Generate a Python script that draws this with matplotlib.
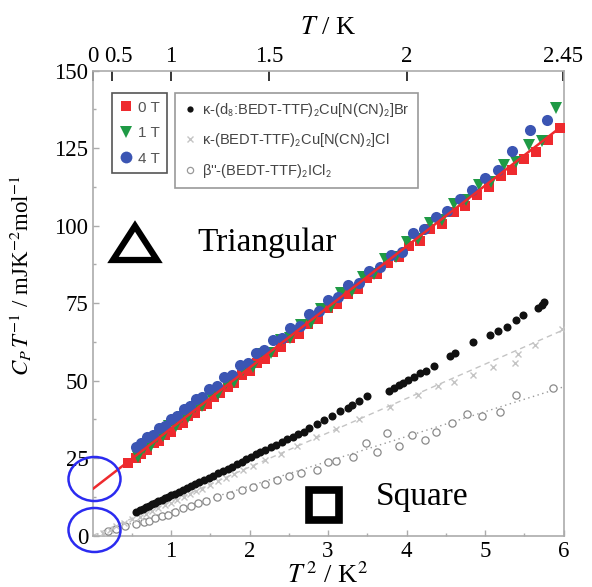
import numpy as np
import matplotlib
matplotlib.use('Agg')
import matplotlib.pyplot as plt
from matplotlib.lines import Line2D
from matplotlib.patches import Ellipse, Polygon, Rectangle
from matplotlib.ticker import NullLocator
from matplotlib.transforms import ScaledTranslation

plt.rcParams['font.family'] = ['Liberation Serif', 'DejaVu Serif']
plt.rcParams['mathtext.fontset'] = 'stix'

# ---------------- data ----------------
# triangular lattice sample, 0 T / 1 T / 4 T  (x = T^2 [K^2], y = C_p/T [mJ K^-2 mol^-1])
x0T = [0.45, 0.55, 0.62, 0.70, 0.78, 0.85, 0.92, 1.00, 1.08, 1.15, 1.22, 1.30, 1.38, 1.46,
       1.55, 1.63, 1.72, 1.80, 1.90, 2.00, 2.10, 2.20, 2.30, 2.40, 2.52, 2.63, 2.75, 2.87,
       3.00, 3.12, 3.25, 3.38, 3.50, 3.63, 3.76, 3.90, 4.03, 4.17, 4.30, 4.45, 4.60, 4.75,
       4.90, 5.05, 5.20, 5.35, 5.50, 5.65, 5.80, 5.95]
y0T = [23.5, 25.0, 26.5, 27.8, 29.9, 30.6, 32.4, 33.6, 35.8, 36.4, 38.6, 39.5, 41.8, 42.6,
       44.9, 46.0, 48.1, 49.2, 51.9, 53.1, 55.8, 57.0, 59.4, 60.8, 63.9, 65.2, 68.4, 69.9,
       73.3, 74.6, 78.1, 79.7, 83.2, 84.5, 88.0, 89.8, 93.4, 95.1, 98.9, 100.6, 104.5, 106.3,
       109.8, 112.4, 115.9, 118.1, 121.6, 123.7, 127.6, 131.4]

x1T = [0.58, 0.66, 0.74, 0.82, 0.90, 0.98, 1.06, 1.14, 1.22, 1.30, 1.40, 1.50, 1.60, 1.70,
       1.80, 1.92, 2.04, 2.16, 2.28, 2.40, 2.52, 2.65, 2.78, 2.91, 3.04, 3.17, 3.30, 3.44,
       3.58, 3.72, 3.86, 4.00, 4.15, 4.30, 4.45, 4.60, 4.76, 4.92, 5.08, 5.24, 5.40, 5.56,
       5.72, 5.91]
y1T = [25.5, 28.4, 28.9, 31.8, 32.1, 35.3, 35.4, 38.3, 38.2, 41.6, 41.9, 45.3, 45.8, 49.4,
       49.7, 53.5, 54.3, 58.5, 59.0, 63.1, 63.8, 67.9, 68.7, 73.0, 73.9, 78.3, 79.0, 83.4,
       84.4, 89.3, 89.9, 94.8, 95.6, 100.8, 101.9, 106.9, 108.3, 113.2, 114.2, 119.5, 120.6, 125.9,
       127.2, 137.9]

x4T = [0.55, 0.62, 0.70, 0.77, 0.85, 0.92, 1.00, 1.08, 1.16, 1.24, 1.32, 1.40, 1.49, 1.58,
       1.68, 1.78, 1.88, 1.98, 2.08, 2.19, 2.30, 2.41, 2.52, 2.64, 2.76, 2.88, 3.00, 3.13,
       3.26, 3.39, 3.52, 3.66, 3.80, 3.94, 4.08, 4.22, 4.37, 4.52, 4.68, 4.84, 5.00, 5.16,
       5.34, 5.57, 5.79]
y4T = [28.5, 29.8, 31.7, 32.6, 34.8, 35.5, 37.8, 38.6, 41.0, 41.7, 44.1, 44.6, 47.4, 48.2,
       51.3, 52.0, 55.2, 55.8, 58.9, 59.9, 63.0, 63.7, 67.1, 67.8, 71.5, 72.4, 76.0, 76.9,
       80.8, 81.5, 85.4, 86.6, 90.6, 91.6, 97.5, 99.0, 102.9, 104.9, 108.6, 111.5, 115.4, 118.0,
       124.0, 130.9, 134.0]

fit_x = [0.0, 6.0]
fit_y = [15.0, 132.5]

# kappa-(d8:BEDT-TTF)2Cu[N(CN)2]Br
xBr = [0.56, 0.60, 0.64, 0.68, 0.72, 0.76, 0.80, 0.84, 0.88, 0.92, 0.96, 1.00, 1.05, 1.10,
       1.15, 1.20, 1.25, 1.30, 1.36, 1.42, 1.48, 1.54, 1.60, 1.66, 1.72, 1.78, 1.84, 1.90,
       1.96, 2.02, 2.08, 2.14, 2.20, 2.27, 2.34, 2.41, 2.48, 2.55, 2.62, 2.69, 2.76, 2.86,
       2.95, 3.05, 3.15, 3.25, 3.30, 3.40, 3.50, 3.78, 3.84, 3.90, 3.96, 4.02, 4.10, 4.17,
       4.25, 4.35, 4.55, 4.62, 4.85, 5.06, 5.17, 5.28, 5.40, 5.49, 5.68, 5.72, 5.75]
yBr = [7.7, 8.3, 8.6, 9.4, 9.6, 10.3, 10.6, 11.2, 11.5, 12.2, 12.5, 13.1, 13.6, 14.2,
       14.7, 15.4, 15.9, 16.6, 17.2, 17.9, 18.6, 19.3, 20.1, 20.8, 21.6, 22.3, 23.0, 23.9,
       24.6, 25.5, 26.2, 27.0, 27.7, 28.6, 29.4, 30.3, 31.2, 31.9, 32.9, 33.5, 34.6, 36.1,
       37.2, 38.6, 40.2, 41.3, 42.3, 43.6, 45.0, 46.8, 47.8, 48.5, 49.2, 50.3, 51.2, 52.4,
       53.1, 54.6, 57.9, 58.8, 62.6, 64.7, 66.0, 67.4, 69.5, 71.2, 73.3, 74.4, 75.3]

# kappa-(BEDT-TTF)2Cu[N(CN)2]Cl
xCl = [0.14, 0.22, 0.30, 0.40, 0.50, 0.60, 0.68, 0.76, 0.84, 0.92, 1.00, 1.08, 1.16, 1.24,
       1.32, 1.40, 1.50, 1.60, 1.70, 1.80, 1.92, 2.05, 2.20, 2.40, 2.60, 2.85, 3.10, 3.40,
       3.79, 4.15, 4.40, 4.60, 4.85, 5.10, 5.38, 5.42, 5.64, 5.98]
yCl = [0.9, 2.0, 3.0, 4.2, 5.3, 6.1, 7.0, 7.9, 8.8, 9.8, 10.7, 11.6, 12.4, 13.4,
       14.3, 15.2, 16.3, 17.5, 18.6, 19.8, 21.1, 22.6, 24.3, 26.5, 28.8, 31.7, 34.4, 37.8,
       41.5, 45.5, 48.3, 49.6, 52.0, 54.5, 55.7, 58.5, 61.5, 66.8]
cl_fit_x = [0.0, 6.0]
cl_fit_y = [0.0, 66.4]

# beta''-(BEDT-TTF)2ICl2
xICl = [0.20, 0.30, 0.42, 0.55, 0.65, 0.72, 0.80, 0.88, 0.96, 1.05, 1.15, 1.25, 1.35, 1.45,
        1.58, 1.75, 1.90, 2.05, 2.20, 2.35, 2.50, 2.65, 2.86, 3.00, 3.10, 3.32, 3.49, 3.62,
        3.75, 3.90, 4.07, 4.24, 4.38, 4.58, 4.77, 4.96, 5.19, 5.40, 5.87]
yICl = [1.5, 2.3, 3.0, 3.8, 4.3, 4.8, 5.6, 6.2, 6.8, 7.8, 8.8, 9.5, 10.4, 11.3,
        12.4, 13.1, 14.6, 15.8, 16.6, 18.0, 19.1, 20.3, 21.2, 23.8, 24.0, 25.5, 30.0, 27.1,
        33.2, 28.9, 32.5, 30.9, 33.5, 36.5, 39.3, 38.6, 40.0, 45.4, 47.5]
icl_fit_x = [0.0, 6.0]
icl_fit_y = [0.0, 48.0]

xticks = [1, 2, 3, 4, 5, 6]
yticks = [0, 25, 50, 75, 100, 125, 150]
top_T = [0, 0.5, 1, 1.5, 2, 2.449]
top_labels = ['0', '0.5', '1', '1.5', '2', '2.45']

# ---------------- figure ----------------
W, H = 592, 587
fig = plt.figure(figsize=(W / 100, H / 100), dpi=100)
ax = fig.add_axes([92.5 / W, 1 - 535.7 / H, 471 / W, 465 / H])
ax.set_xlim(0, 6)
ax.set_ylim(0, 150)

RED, GREEN, BLUE = '#ee2a2e', '#1f9a45', '#3b55b3'

ax.plot(icl_fit_x, icl_fit_y, ls=(0, (1, 2.5)), color='#999999', lw=1.0, zorder=2)
ax.plot(cl_fit_x, cl_fit_y, ls=(0, (4, 3)), color='#c4c4c4', lw=1.0, zorder=2)
ax.plot(xICl, yICl, ls='', marker='o', ms=5.2, mfc='white', mec='#8a8a8a', mew=0.9, zorder=3)
ax.plot(xCl, yCl, ls='', marker='x', ms=4.5, color='#c4c4c4', mew=1.0, zorder=3)
ax.plot(xBr, yBr, ls='', marker='o', ms=5.8, color='#111111', mew=0, zorder=4)

ax.plot(x0T, y0T, ls='', marker='s', ms=7.5, color=RED, mew=0, zorder=5)
ax.plot(x1T, y1T, ls='', marker='v', ms=8, color=GREEN, mew=0, zorder=6)
ax.plot(x4T, y4T, ls='', marker='o', ms=8, color=BLUE, mew=0, zorder=7)
ax.plot(fit_x, fit_y, color=RED, lw=1.8, zorder=8, solid_capstyle='butt')

# axes styling
SP = '#ababab'
for s in ax.spines.values():
    s.set_color(SP)
    s.set_linewidth(1.2)
ax.set_xticks(xticks)
ax.set_xticks([0.5, 1.5, 2.5, 3.5, 4.5, 5.5], minor=True)
ax.set_yticks(yticks)
ax.set_yticks([12.5, 37.5, 62.5, 87.5, 112.5, 137.5], minor=True)
ax.tick_params(which='both', direction='in', color=SP, labelcolor='black', labelsize=16.5,
               top=False, right=False)
ax.tick_params(which='major', length=4, width=1.0)
ax.tick_params(which='minor', length=2.5, width=1.0)
ax.tick_params(axis='y', pad=3)
ax.tick_params(axis='x', pad=4)

sec = ax.secondary_xaxis('top', functions=(lambda x: np.sqrt(np.clip(x, 0, None)),
                                           lambda t: np.asarray(t) ** 2))
sec.set_xticks(top_T, labels=top_labels)
sec.xaxis.set_minor_locator(NullLocator())
sec.spines['top'].set_visible(False)
sec.tick_params(direction='in', length=7, width=1.1, color='black', labelsize=16.5, pad=3)
sec.set_xlabel('$T$ / K', fontsize=19, labelpad=8)
# nudge the crowded "0.5" label right so it does not touch "0"
lbl05 = sec.xaxis.get_major_ticks()[1].label2
lbl05.set_transform(lbl05.get_transform() + ScaledTranslation(6 / 100, 0, fig.dpi_scale_trans))

ax.set_xlabel('$T^{\\,2}$ / K$^2$', fontsize=19, labelpad=0)
ax.set_ylabel('$C_P\\,T^{-1}$ / mJK$^{-2}$mol$^{-1}$', fontsize=16.5)
ax.yaxis.set_label_coords(-0.125, 0.56)

# legends
sans = {'family': 'Liberation Sans', 'size': 11}
h1 = [Line2D([], [], ls='', marker='s', ms=7.5, color=RED, mew=0, label='0 T'),
      Line2D([], [], ls='', marker='v', ms=8.5, color=GREEN, mew=0, label='1 T'),
      Line2D([], [], ls='', marker='o', ms=8.5, color=BLUE, mew=0, label='4 T')]
leg1 = ax.legend(handles=h1, loc='upper left', bbox_to_anchor=(111.7 / W, 1 - 93 / H),
                 bbox_transform=fig.transFigure, prop=sans, fancybox=False, framealpha=1,
                 edgecolor='#555555', borderaxespad=0, handlelength=0.9, handletextpad=0.3,
                 labelspacing=0.75, borderpad=0.5, labelcolor='#555555')
leg1.get_frame().set_linewidth(1.2)
ax.add_artist(leg1)

h2 = [Line2D([], [], ls='', marker='o', ms=4.5, color='#111111', mew=0,
             label='κ-(d$_\\mathsf{8}$:BEDT-TTF)$_\\mathsf{2}$Cu[N(CN)$_\\mathsf{2}$]Br'),
      Line2D([], [], ls='', marker='x', ms=4.5, color='#c4c4c4', mew=1,
             label='κ-(BEDT-TTF)$_\\mathsf{2}$Cu[N(CN)$_\\mathsf{2}$]Cl'),
      Line2D([], [], ls='', marker='o', ms=4.5, mfc='white', mec='#999999', mew=0.9,
             label="β''-(BEDT-TTF)$_\\mathsf{2}$ICl$_\\mathsf{2}$")]
leg2 = ax.legend(handles=h2, loc='upper left', bbox_to_anchor=(175 / W, 1 - 93 / H),
                 bbox_transform=fig.transFigure, prop={'family': 'Liberation Sans', 'size': 10.5},
                 fancybox=False, framealpha=1, edgecolor='#999999', borderaxespad=0,
                 handlelength=0.9, handletextpad=0.4, labelspacing=0.85, borderpad=0.55,
                 labelcolor='#444444')
leg2.get_frame().set_linewidth(1.2)


def fp(px, py):
    return (px / W, 1 - py / H)


# lattice symbols
tri = Polygon([fp(135, 226), fp(157, 260), fp(113, 260)], closed=True, fill=False,
              edgecolor='black', lw=4.5, joinstyle='miter', transform=fig.transFigure)
fig.add_artist(tri)
sq = Rectangle(fp(309, 520), 30 / W, 30 / H, fill=False, edgecolor='black', lw=5.5,
               joinstyle='miter', transform=fig.transFigure)
fig.add_artist(sq)
fig.text(*fp(267, 243), 'Triangular', fontsize=24, ha='center', va='center')
fig.text(*fp(422, 497), 'Square', fontsize=24, ha='center', va='center')

# blue circles marking intercepts
for cy in (479, 530):
    fig.add_artist(Ellipse(fp(94.5, cy), 52 / W, 44 / H, fill=False, edgecolor='#2b2bf0',
                           lw=1.8, transform=fig.transFigure))

fig.savefig('out.png', dpi=100)
